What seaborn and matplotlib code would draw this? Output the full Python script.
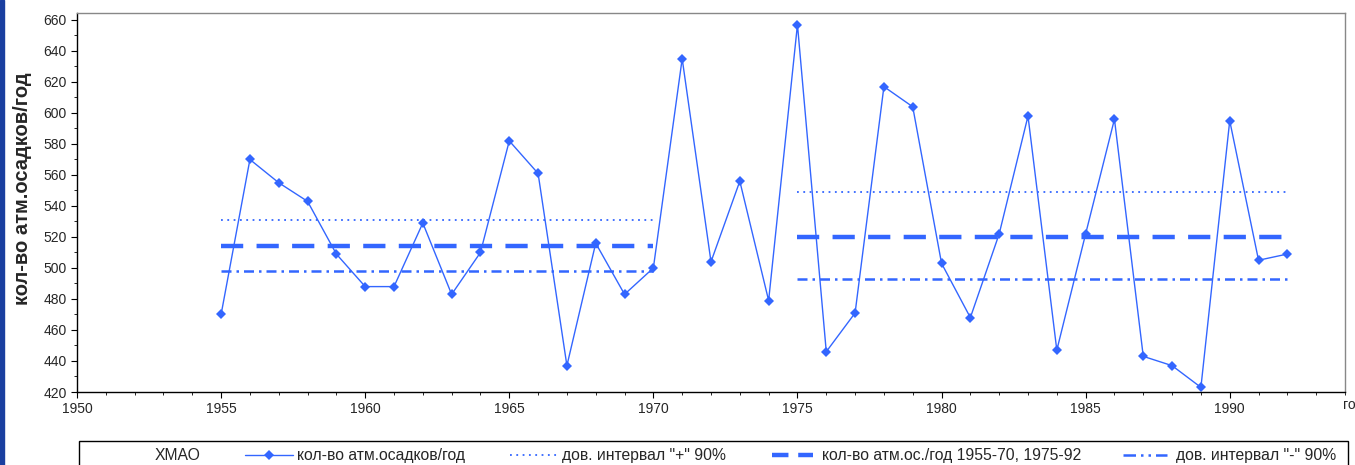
import matplotlib
matplotlib.use("Agg")
import matplotlib.pyplot as plt
import matplotlib.patches as mpatches
from matplotlib.lines import Line2D
from matplotlib.ticker import MultipleLocator
import pandas as pd
import seaborn as sns

# годовое количество осадков, ХМАО
years = list(range(1955, 1993))
precip = [470, 570, 555, 543, 509, 488, 488, 529, 483, 510,
          582, 561, 437, 516, 483, 500, 635, 504, 556, 479,
          657, 446, 471, 617, 604, 503, 468, 522, 598, 447,
          522, 596, 443, 437, 423, 595, 505, 509]

# средние и доверительные интервалы по периодам
period1 = [1955, 1970]
period2 = [1975, 1992]
upper1, mean1, lower1 = 531, 514, 498
upper2, mean2, lower2 = 549, 520, 493

label_series = "кол-во атм.осадков/год"
label_upper = 'дов. интервал "+" 90%'
label_mean = "кол-во атм.ос./год 1955-70, 1975-92"
label_lower = 'дов. интервал "-" 90%'

sns.set_style("ticks")
plt.rcParams['font.family'] = ['Liberation Sans', 'DejaVu Sans']

blue = '#3366ff'
W, H = 1355, 465

# line styles shared by plot and legend
st_series = dict(color=blue, lw=1.0)
st_upper = dict(color=blue, lw=1.3, linestyle=(0, (1, 2.5)))
st_mean = dict(color=blue, lw=3.2, linestyle=(0, (5, 3)))
st_lower = dict(color=blue, lw=1.8, linestyle=(0, (4, 2, 1, 2)))

fig = plt.figure(figsize=(W / 100, H / 100), dpi=100)
ax = fig.add_axes([77 / W, 1 - 392 / H, 1268 / W, 379 / H])

df = pd.DataFrame({'год': years, 'осадки': precip})
sns.lineplot(data=df, x='год', y='осадки', ax=ax, marker='D', markersize=5,
             markeredgewidth=0, **st_series)

for per, up, mn, lo in [(period1, upper1, mean1, lower1), (period2, upper2, mean2, lower2)]:
    sns.lineplot(x=per, y=[up, up], ax=ax, **st_upper)
    sns.lineplot(x=per, y=[mn, mn], ax=ax, **st_mean)
    sns.lineplot(x=per, y=[lo, lo], ax=ax, **st_lower)

ax.set_xlim(1950, 1994)
ax.set_ylim(420, 664.5)
ax.xaxis.set_major_locator(MultipleLocator(5))
ax.xaxis.set_minor_locator(MultipleLocator(1))
ax.yaxis.set_major_locator(MultipleLocator(20))
ax.yaxis.set_minor_locator(MultipleLocator(10))
ax.tick_params(axis='both', which='major', length=4, labelsize=10, color='black')
ax.tick_params(axis='both', which='minor', length=2.5, color='black')
for side in ['top', 'right']:
    ax.spines[side].set_color('#888888')
for side in ['left', 'bottom']:
    ax.spines[side].set_color('black')
for s in ax.spines.values():
    s.set_linewidth(1.0)

ax.set_xlabel('')
ax.set_ylabel('')
fig.text(23 / W, 1 - 189 / H, 'кол-во атм.осадков/год', fontsize=14.5, fontweight='bold',
         rotation=90, ha='center', va='center')
fig.text(1343 / W, 1 - 405 / H, 'год', fontsize=10, ha='left', va='center')

# legend row drawn by hand to match the original layout
fig.patches.append(mpatches.Rectangle((79 / W, -0.05), (1348 - 79) / W, 0.05 + 1 - 441 / H,
                                      transform=fig.transFigure, fill=False,
                                      edgecolor='black', lw=1.0))
ly = 1 - 455 / H
fig.text(178 / W, ly, 'ХМАО', fontsize=11.3, ha='center', va='center')
st_mean_leg = dict(st_mean, linestyle=(0, (3.7, 2.2)))
st_lower_leg = dict(st_lower, linestyle=(0, (5, 2, 1, 2, 1, 2)))
entries = [
    (245, 293, 297, label_series, st_series, True),
    (510, 557, 562, label_upper, st_upper, False),
    (772, 813, 822, label_mean, st_mean_leg, False),
    (1123, 1167, 1176, label_lower, st_lower_leg, False),
]
for x0, x1, xt, lab, st, mark in entries:
    fig.lines.append(Line2D([x0 / W, x1 / W], [ly, ly], transform=fig.transFigure, **st))
    if mark:
        fig.lines.append(Line2D([(x0 + x1) / 2 / W], [ly], transform=fig.transFigure,
                                color=blue, marker='D', markersize=5, markeredgewidth=0))
    fig.text(xt / W, ly, lab, fontsize=11.3, ha='left', va='center')

# dark border strip on the left edge
fig.patches.append(mpatches.Rectangle((0, 0), 4 / W, 1, transform=fig.transFigure,
                                      color='#1a3fa0', zorder=10))

fig.savefig('out.png', dpi=100)
